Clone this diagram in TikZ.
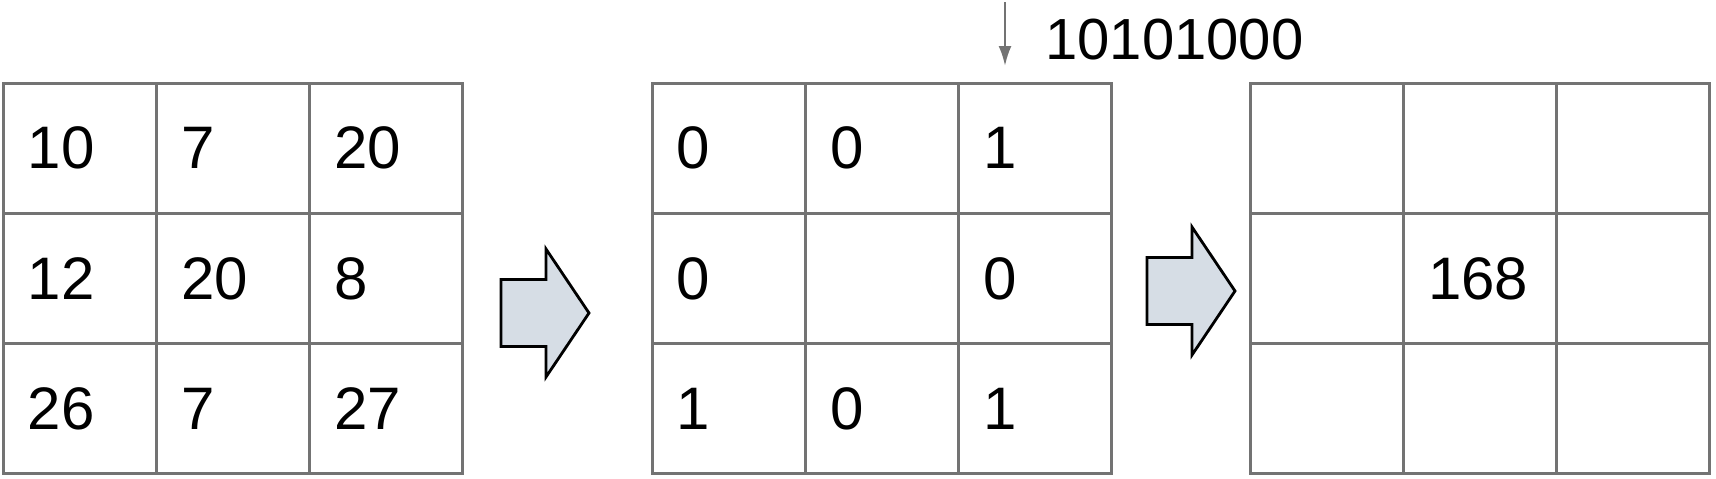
\documentclass[tikz,border=0pt]{standalone}
\usepackage{fontspec}
\setmainfont{Liberation Sans}
\usetikzlibrary{positioning,arrows.meta}
\definecolor{gridgray}{HTML}{737373}
\definecolor{arrowfill}{HTML}{D6DDE5}
\tikzset{
	cell/.style={draw=gridgray, line width=1.5pt, minimum width=76.65pt, minimum height=65.15pt, inner sep=0pt},
	num/.style={inner sep=0pt, font=\fontsize{30pt}{36pt}\selectfont},
	blockarrow/.style={draw=black, line width=1.4pt, fill=arrowfill, line join=miter},
	bitarrow/.style={draw=gridgray, line width=1.2pt, -{Latex[length=10pt,width=6.5pt]}}
}
\begin{document}
\begin{tikzpicture}[x=0.5pt,y=-0.5pt]
	\useasboundingbox (0,0) rectangle (1716,478);
	
	% the three grids
	\foreach \g/\gx in {L/3,M/652,R/1250}
		\foreach \r in {0,1,2}
			\foreach \c in {0,1,2}
				\node[cell] (\g\r\c) at (\gx+153.3*\c+76.65, 83+130.3*\r+65.15) {};
	
	% values
	\foreach \g/\r/\c/\v in {L/0/0/10, L/0/1/7, L/0/2/20, L/1/0/12, L/1/1/20, L/1/2/8, L/2/0/26, L/2/1/7, L/2/2/27,
		M/0/0/0, M/0/1/0, M/0/2/1, M/1/0/0, M/1/2/0, M/2/0/1, M/2/1/0, M/2/2/1, R/1/1/168}
		\node[num, right=13pt of \g\r\c.west] (v\g\r\c) {\v};
	
	% block arrows
	\foreach \ax/\ay in {501/313,1147/291}
		\draw[blockarrow, shift={(\ax,\ay)}] (0,-33.5) -- (45,-33.5) -- (45,-64) -- (88,0) -- (45,64) -- (45,33.5) -- (0,33.5) -- cycle;
	
	% bit string
	\coordinate (bitstart) at (1005,2);
	\coordinate (bitend) at (1005,66);
	\draw[bitarrow] (bitstart) -- (bitend);
	\node[num, anchor=west, font=\fontsize{29pt}{35pt}\selectfont] (bits) at (1045,40) {10101000};
\end{tikzpicture}
\end{document}
